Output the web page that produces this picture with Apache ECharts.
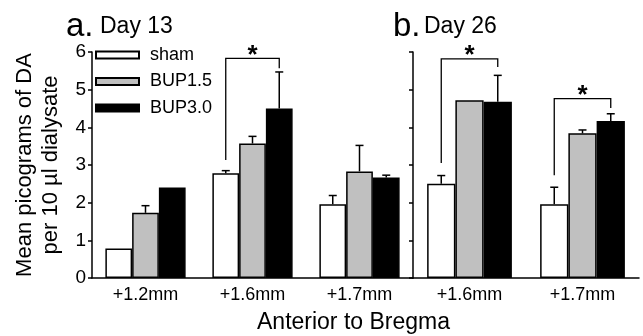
<!DOCTYPE html>
<html>
<head>
<meta charset="utf-8">
<script src="https://cdn.jsdelivr.net/npm/echarts@6/dist/echarts.min.js"></script>
<style>
  html, body { margin: 0; padding: 0; background: #fff; }
  #chart { width: 643px; height: 336px; }
</style>
</head>
<body>
<div id="chart"></div>
<script>
  /** Data */
  var groups = ['sham', 'BUP1.5', 'BUP3.0'];
  var colors = ['#ffffff', '#c0c0c0', '#000000'];
  var yTicks = [0, 1, 2, 3, 4, 5, 6];

  var day13Sites = ['+1.2mm', '+1.6mm', '+1.7mm'];
  var day13Sham = [0.78, 2.78, 1.96];
  var day13Bup15 = [1.73, 3.57, 2.83];
  var day13Bup30 = [2.40, 4.50, 2.67];
  var day13ShamErr = [0, 0.07, 0.23];
  var day13Bup15Err = [0.19, 0.19, 0.69];
  var day13Bup30Err = [0, 0.97, 0.06];

  var day26Sites = ['+1.6mm', '+1.7mm'];
  var day26Sham = [2.50, 1.96];
  var day26Bup15 = [4.72, 3.84];
  var day26Bup30 = [4.68, 4.17];
  var day26ShamErr = [0.22, 0.45];
  var day26Bup15Err = [0, 0.09];
  var day26Bup30Err = [0.70, 0.19];

  // significance brackets: [site index, bracket top, left foot, right foot]
  var day13Sig = [[1, 5.83, 3.13, 5.57]];
  var day26Sig = [[0, 5.82, 3.05, 5.60], [1, 4.76, 2.73, 4.51]];

  var font = 'Liberation Sans, Arial, sans-serif';

  /** Helpers */
  function errData(sites, vals, errs) {
    return sites.map(function(s, i) { return [i, vals[i], errs[i]]; });
  }

  function errSeries(idx, sites, vals, errs, offset) {
    return {
      type: 'custom',
      xAxisIndex: idx,
      yAxisIndex: idx,
      z: 5,
      silent: true,
      data: errData(sites, vals, errs),
      encode: { x: 0, y: 1 },
      renderItem: function(params, api) {
        var c = api.value(0), v = api.value(1), e = api.value(2);
        if (!e) return;
        var band = api.size([1, 0])[0];
        var p0 = api.coord([c, v]);
        var p1 = api.coord([c, v + e]);
        var x = p0[0] + offset * band * 0.25;
        var st = { stroke: '#000', lineWidth: 1.5 };
        return {
          type: 'group',
          children: [
            { type: 'line', shape: { x1: x, y1: p0[1], x2: x, y2: p1[1] }, style: st },
            { type: 'line', shape: { x1: x - 4, y1: p1[1], x2: x + 4, y2: p1[1] }, style: st }
          ]
        };
      }
    };
  }

  function sigSeries(idx, sig) {
    return {
      type: 'custom',
      xAxisIndex: idx,
      yAxisIndex: idx,
      z: 6,
      silent: true,
      data: sig,
      encode: { x: 0, y: 1 },
      renderItem: function(params, api) {
        var c = api.value(0);
        var band = api.size([1, 0])[0];
        var mid = api.coord([c, api.value(1)]);
        var xl = mid[0] - band * 0.25, xr = mid[0] + band * 0.25;
        var yl = api.coord([c, api.value(2)])[1];
        var yr = api.coord([c, api.value(3)])[1];
        return {
          type: 'group',
          children: [
            {
              type: 'polyline',
              shape: { points: [[xl, yl], [xl, mid[1]], [xr, mid[1]], [xr, yr]] },
              style: { stroke: '#000', lineWidth: 1.3, fill: null }
            },
            {
              type: 'text',
              x: mid[0], y: mid[1] - 3,
              style: { text: '*', fill: '#000', font: 'bold 26px ' + font, align: 'center', verticalAlign: 'middle' }
            }
          ]
        };
      }
    };
  }

  function barSeries(idx, name, vals, color) {
    return {
      type: 'bar',
      name: name,
      xAxisIndex: idx,
      yAxisIndex: idx,
      data: vals,
      barGap: '0%',
      barCategoryGap: '25%',
      itemStyle: { color: color, borderColor: '#000', borderWidth: 1.5 }
    };
  }

  function xAxis(idx, sites) {
    return {
      type: 'category',
      gridIndex: idx,
      data: sites,
      axisLine: { lineStyle: { color: '#000', width: 1.5 } },
      axisTick: { alignWithLabel: true, length: 4, lineStyle: { color: '#000', width: 1.5 } },
      axisLabel: { color: '#000', fontSize: 18, fontFamily: font, margin: 8 }
    };
  }

  function yAxis(idx, labels) {
    return {
      type: 'value',
      gridIndex: idx,
      min: yTicks[0],
      max: yTicks[yTicks.length - 1],
      interval: 1,
      splitLine: { show: false },
      axisLine: { show: true, lineStyle: { color: '#000', width: 1.5 } },
      axisTick: { show: true, length: 4, lineStyle: { color: '#000', width: 1.5 } },
      axisLabel: { show: labels, color: '#000', fontSize: 19, fontFamily: font, margin: 6 },
      name: labels ? 'Mean picograms of DA\nper 10 \u00b5l dialysate' : '',
      nameLocation: 'middle',
      nameRotate: 90,
      nameGap: 28,
      nameTextStyle: { color: '#000', fontSize: 22, fontFamily: font, lineHeight: 26 }
    };
  }

  /** Chart */
  var option = {
    animation: false,
    backgroundColor: '#fff',
    grid: [
      { left: 92, top: 52, width: 321, height: 226 },
      { left: 413, top: 52, width: 226, height: 226 }
    ],
    legend: {
      data: groups,
      orient: 'vertical',
      left: 95,
      top: 46,
      padding: 0,
      icon: 'rect',
      itemWidth: 43,
      itemHeight: 7,
      itemGap: 8.5,
      textStyle: { color: '#000', fontSize: 18, fontFamily: font, lineHeight: 18, padding: [0, 0, 0, 6] }
    },
    xAxis: [xAxis(0, day13Sites), xAxis(1, day26Sites)],
    yAxis: [yAxis(0, true), yAxis(1, false)],
    series: [
      barSeries(0, groups[0], day13Sham, colors[0]),
      barSeries(0, groups[1], day13Bup15, colors[1]),
      barSeries(0, groups[2], day13Bup30, colors[2]),
      barSeries(1, groups[0], day26Sham, colors[0]),
      barSeries(1, groups[1], day26Bup15, colors[1]),
      barSeries(1, groups[2], day26Bup30, colors[2]),
      errSeries(0, day13Sites, day13Sham, day13ShamErr, -1),
      errSeries(0, day13Sites, day13Bup15, day13Bup15Err, 0),
      errSeries(0, day13Sites, day13Bup30, day13Bup30Err, 1),
      errSeries(1, day26Sites, day26Sham, day26ShamErr, -1),
      errSeries(1, day26Sites, day26Bup15, day26Bup15Err, 0),
      errSeries(1, day26Sites, day26Bup30, day26Bup30Err, 1),
      sigSeries(0, day13Sig),
      sigSeries(1, day26Sig)
    ],
    graphic: [
      { type: 'text', left: 66, top: 10, style: { text: 'a.', fill: '#000', font: '33px ' + font } },
      { type: 'text', left: 100, top: 15, style: { text: 'Day 13', fill: '#000', font: '23px ' + font } },
      { type: 'text', left: 393, top: 10, style: { text: 'b.', fill: '#000', font: '33px ' + font } },
      { type: 'text', left: 424, top: 15, style: { text: 'Day 26', fill: '#000', font: '23px ' + font } },
      { type: 'text', left: 257, top: 311, style: { text: 'Anterior to Bregma', fill: '#000', font: '23px ' + font } }
    ]
  };

  echarts.init(document.getElementById('chart')).setOption(option);
</script>
</body>
</html>
